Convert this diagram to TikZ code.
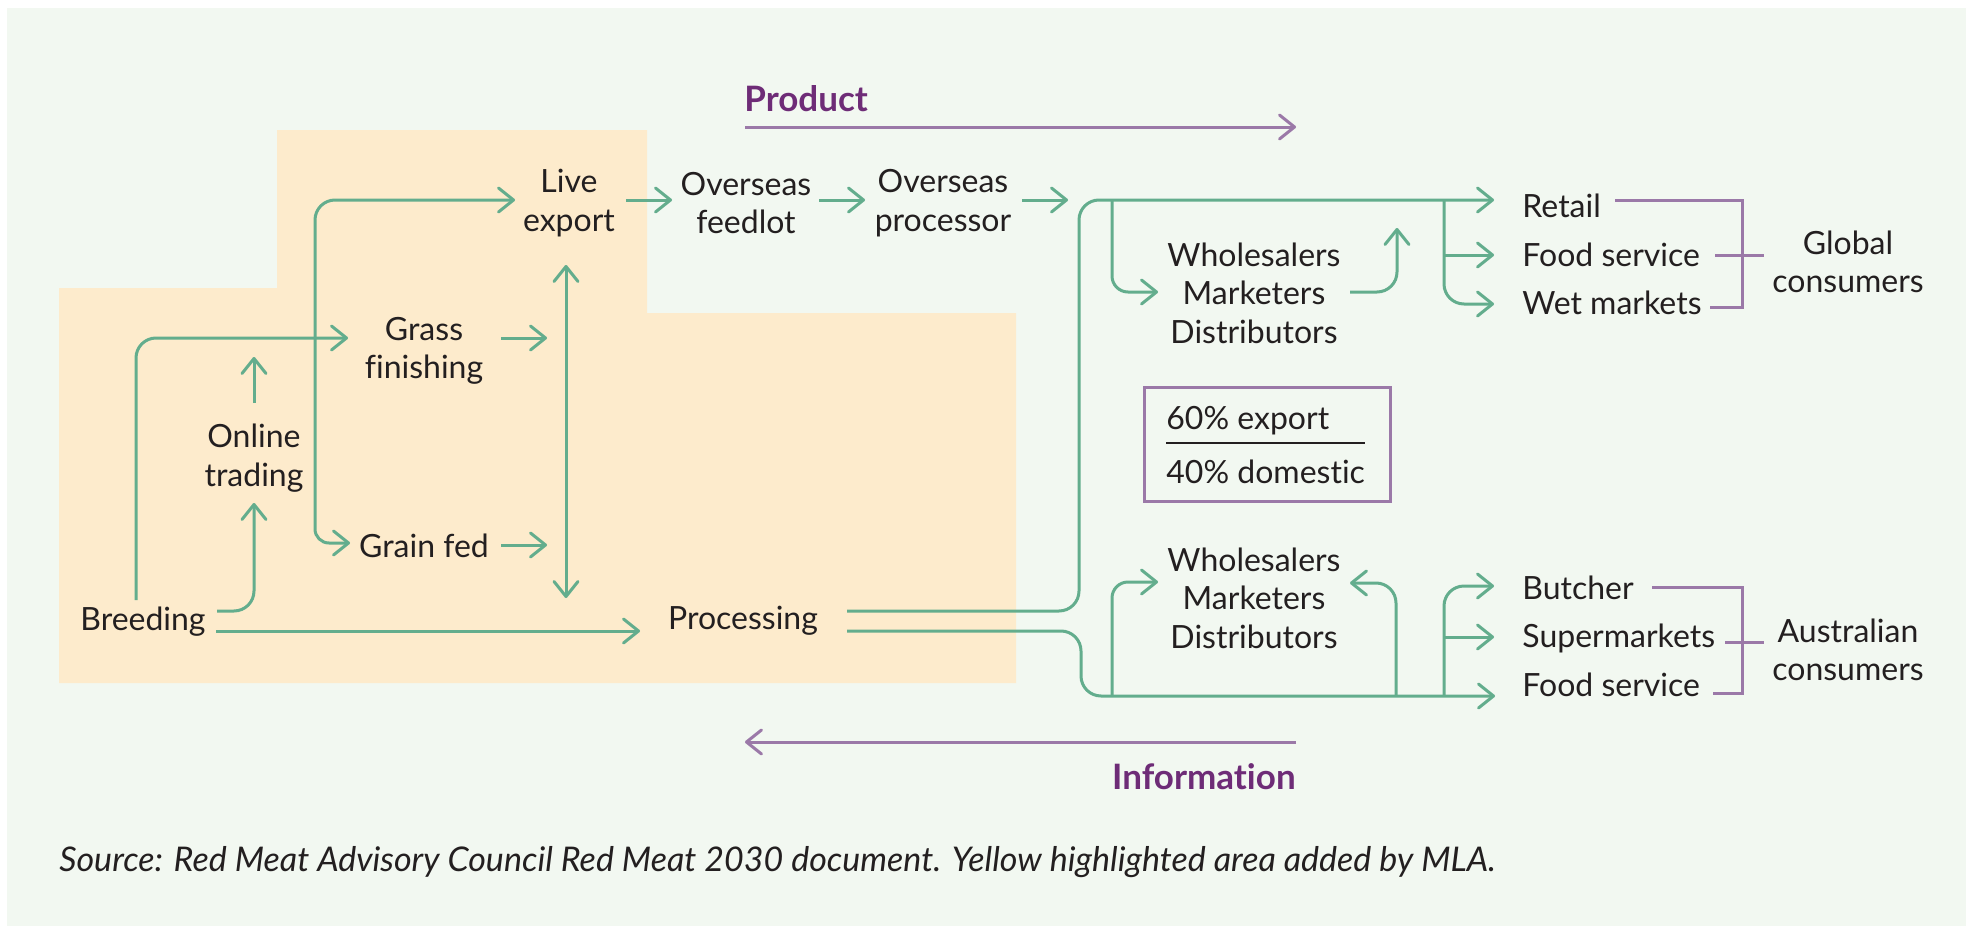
\documentclass[tikz,border=0pt]{standalone}
\usepackage{fontspec}
\setmainfont{Lato}[Ligatures=NoCommon]
\usetikzlibrary{arrows.meta}
\definecolor{bgc}{HTML}{F2F8F1}
\definecolor{yel}{HTML}{FDEBCC}
\definecolor{grn}{HTML}{63AD8D}
\definecolor{pur}{HTML}{9B79A8}
\definecolor{purt}{HTML}{6E2C77}
\definecolor{txt}{HTML}{231F20}
\tikzset{
  lbl/.style={text=txt, font=\fontsize{16}{19.25}\selectfont, align=center, inner sep=0pt},
  lbll/.style={lbl, anchor=west, align=left},
  gline/.style={draw=grn, line width=1.5pt, rounded corners=10pt},
  garr/.style={gline, -{Straight Barb[length=7.5pt,width=12pt,round]}},
  gdarr/.style={gline, {Straight Barb[length=7.5pt,width=12pt,round]}-{Straight Barb[length=7.5pt,width=12pt,round]}},
  pline/.style={draw=pur, line width=1.5pt},
  parr/.style={pline, -{Straight Barb[length=7.5pt,width=12pt,round]}},
  head/.style={text=purt, font=\fontsize{17.5}{20}\selectfont\bfseries, inner sep=0pt}
}
\begin{document}
\begin{tikzpicture}[x=0.5pt,y=-0.5pt]
\useasboundingbox (0,0) rectangle (1966,926);
\fill[white] (0,0) rectangle (1966,926);
\fill[bgc] (7,8) rectangle (1966,926);
\fill[yel] (59,288) -- (277,288) -- (277,130) -- (647,130) -- (647,313) -- (1016,313) -- (1016,683) -- (59,683) -- cycle;

% text nodes
\node[lbl] (breeding) at (143,622) {Breeding};
\node[lbl] (online) at (254,458) {Online\\trading};
\node[lbl] (grass) at (424,351) {Grass\\finishing};
\node[lbl] (grain) at (424,546) {Grain fed};
\node[lbl] (live) at (569,203) {Live\\export};
\node[lbl] (feedlot) at (746,203) {Overseas\\feedlot};
\node[lbl] (processor) at (943,203) {Overseas\\processor};
\node[lbl] (processing) at (743,621) {Processing};
\node[lbl] (wmdA) at (1254,293) {Wholesalers\\Marketers\\Distributors};
\node[lbl] (wmdB) at (1254,598) {Wholesalers\\Marketers\\Distributors};
\node[lbll] (retail) at (1522,206) {Retail};
\node[lbll] (foodA) at (1522,255) {Food service};
\node[lbll] (wet) at (1522,303) {Wet markets};
\node[lbll] (butcher) at (1522,588) {Butcher};
\node[lbll] (super) at (1522,638) {Supermarkets};
\node[lbll] (foodB) at (1522,685) {Food service};
\node[lbl] (global) at (1848,262) {Global\\consumers};
\node[lbl] (aus) at (1848,650) {Australian\\consumers};
\node[head, anchor=west] (product) at (744,99) {Product};
\node[head, anchor=east] (info) at (1296,777) {Information};
\node[lbll] (exp) at (1166,421) {60\% export};
\node[lbll] (dom) at (1166,472) {40\% domestic};
\node[text=txt, font=\fontsize{17}{20}\selectfont\itshape, anchor=west, inner sep=0pt] (source) at (59,862) {Source: Red Meat Advisory Council Red Meat 2030 document. Yellow highlighted area added by MLA.};

% ratio box
\node[draw=pur, line width=1.5pt, minimum width=123pt, minimum height=57pt, inner sep=0pt, anchor=north west] (ratio) at (1143,386) {};
\draw[txt, line width=1pt] (1166,443) -- (1365,443);

% coordinates
\coordinate (b1) at (136,600);
\coordinate (b2) at (217,611);
\coordinate (b3) at (216,631);
\coordinate (gI) at (348,338);
\coordinate (oI) at (254,503);
\coordinate (oO) at (254,403);
\coordinate (gI2) at (254,357);
\coordinate (split) at (315,338);
\coordinate (liveI) at (515,200);
\coordinate (grainI) at (350,543);
\coordinate (grassO) at (501,338);
\coordinate (grassO2) at (547,338);
\coordinate (grainO) at (501,545);
\coordinate (grainO2) at (547,545);
\coordinate (dT) at (566,265);
\coordinate (dB) at (566,598);
\coordinate (procI) at (640,631);
\coordinate (liveO) at (626,200);
\coordinate (feedI) at (672,200);
\coordinate (feedO) at (819,200);
\coordinate (procrI) at (865,200);
\coordinate (procrO) at (1022,200);
\coordinate (procrO2) at (1068,200);
\coordinate (pU) at (847,611);
\coordinate (pL) at (847,631);
\coordinate (retailI) at (1494,200);
\coordinate (wAI) at (1158,292);
\coordinate (wAO) at (1350,292);
\coordinate (wAO2) at (1397,228);
\coordinate (foodAI) at (1494,255);
\coordinate (wetI) at (1494,304);
\coordinate (foodBI) at (1495,696);
\coordinate (wBI) at (1158,582);
\coordinate (wBO) at (1350,583);
\coordinate (butI) at (1494,586);
\coordinate (supI) at (1494,637);

% green connectors
\draw[garr] (b1) -- (136,338) -- (gI);
\draw[garr] (b2) -- (254,611) -- (oI);
\draw[garr] (oO) -- (gI2);
\draw[garr] (split) -- (315,200) -- (liveI);
\draw[garr, rounded corners=7pt] (split) -- (315,543) -- (grainI);
\draw[garr] (grassO) -- (grassO2);
\draw[garr] (grainO) -- (grainO2);
\draw[gdarr] (dT) -- (dB);
\draw[garr] (b3) -- (procI);
\draw[garr] (liveO) -- (feedI);
\draw[garr] (feedO) -- (procrI);
\draw[garr] (procrO) -- (procrO2);
\draw[garr] (pU) -- (1079,611) -- (1079,200) -- (retailI);
\draw[garr, rounded corners=8pt] (1112,200) -- (1112,292) -- (wAI);
\draw[garr] (wAO) -- (1397,292) -- (wAO2);
\draw[garr] (1444,200) -- (1444,304) -- (wetI);
\draw[garr] (1444,255) -- (foodAI);
\draw[garr] (pL) -- (1081,631) -- (1081,696) -- (foodBI);
\draw[garr, rounded corners=8pt] (1112,696) -- (1112,582) -- (wBI);
\draw[garr] (1396,696) -- (1396,583) -- (wBO);
\draw[garr] (1444,696) -- (1444,586) -- (butI);
\draw[garr] (1444,637) -- (supI);

% purple
\draw[parr] (745,127) -- (1296,127);
\draw[parr] (1296,742) -- (745,742);
\draw[pline] (1615,200) -- (1742,200) -- (1742,307) -- (1710,307);
\draw[pline] (1715,255) -- (1764,255);
\draw[pline] (1652,587) -- (1742,587) -- (1742,693) -- (1713,693);
\draw[pline] (1725,642) -- (1764,642);
\end{tikzpicture}
\end{document}
